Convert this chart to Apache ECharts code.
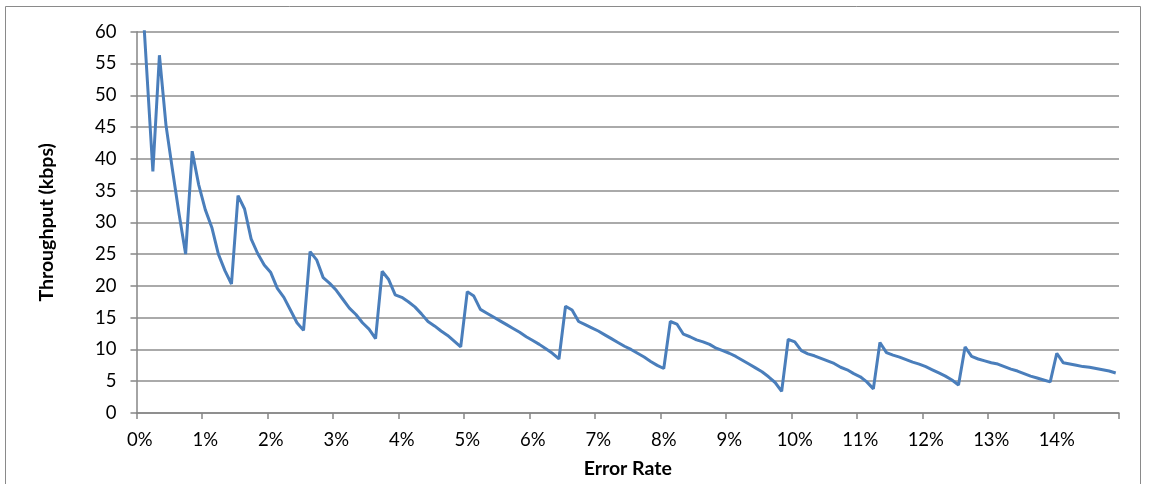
<!DOCTYPE html>
<html>
<head>
<meta charset="utf-8">
<script src="https://cdn.jsdelivr.net/npm/echarts@6/dist/echarts.min.js"></script>
<style>
html,body{margin:0;padding:0;background:#fff;}
#chart{width:1151px;height:484px;}
</style>
</head>
<body>
<div id="chart"></div>
<script>
// Error-rate categories (0.0% .. 14.9% in 0.1% steps)
const categories = [
"0%","0.1%","0.2%","0.3%","0.4%","0.5%","0.6%","0.7%","0.8%","0.9%",
"1%","1.1%","1.2%","1.3%","1.4%","1.5%","1.6%","1.7%","1.8%","1.9%",
"2%","2.1%","2.2%","2.3%","2.4%","2.5%","2.6%","2.7%","2.8%","2.9%",
"3%","3.1%","3.2%","3.3%","3.4%","3.5%","3.6%","3.7%","3.8%","3.9%",
"4%","4.1%","4.2%","4.3%","4.4%","4.5%","4.6%","4.7%","4.8%","4.9%",
"5%","5.1%","5.2%","5.3%","5.4%","5.5%","5.6%","5.7%","5.8%","5.9%",
"6%","6.1%","6.2%","6.3%","6.4%","6.5%","6.6%","6.7%","6.8%","6.9%",
"7%","7.1%","7.2%","7.3%","7.4%","7.5%","7.6%","7.7%","7.8%","7.9%",
"8%","8.1%","8.2%","8.3%","8.4%","8.5%","8.6%","8.7%","8.8%","8.9%",
"9%","9.1%","9.2%","9.3%","9.4%","9.5%","9.6%","9.7%","9.8%","9.9%",
"10%","10.1%","10.2%","10.3%","10.4%","10.5%","10.6%","10.7%","10.8%","10.9%",
"11%","11.1%","11.2%","11.3%","11.4%","11.5%","11.6%","11.7%","11.8%","11.9%",
"12%","12.1%","12.2%","12.3%","12.4%","12.5%","12.6%","12.7%","12.8%","12.9%",
"13%","13.1%","13.2%","13.3%","13.4%","13.5%","13.6%","13.7%","13.8%","13.9%",
"14%","14.1%","14.2%","14.3%","14.4%","14.5%","14.6%","14.7%","14.8%","14.9%"
];

// Throughput (kbps)
const throughput = [
72, 55, 38, 56.3, 45.3, 38.2, 31.3, 25.0, 41.2, 35.9,
32.0, 29.2, 25.0, 22.4, 20.3, 34.2, 32.1, 27.4, 25.1, 23.3,
22.1, 19.6, 18.2, 16.2, 14.2, 13.0, 25.4, 24.1, 21.3, 20.4,
19.3, 17.9, 16.5, 15.5, 14.2, 13.2, 11.7, 22.3, 21.0, 18.6,
18.2, 17.5, 16.7, 15.6, 14.4, 13.7, 12.9, 12.2, 11.3, 10.4,
19.1, 18.4, 16.3, 15.7, 15.1, 14.5, 13.9, 13.3, 12.7, 12.0,
11.4, 10.8, 10.1, 9.4, 8.5, 16.8, 16.2, 14.4, 13.9, 13.4,
12.9, 12.3, 11.7, 11.1, 10.5, 10.0, 9.4, 8.8, 8.1, 7.5,
7.0, 14.4, 14.0, 12.4, 12.0, 11.5, 11.2, 10.8, 10.2, 9.8,
9.4, 8.9, 8.3, 7.7, 7.1, 6.5, 5.7, 4.8, 3.4, 11.6,
11.2, 9.8, 9.3, 9.0, 8.6, 8.2, 7.8, 7.2, 6.8, 6.2,
5.7, 4.9, 3.8, 11.1, 9.5, 9.1, 8.8, 8.4, 8.0, 7.7,
7.3, 6.8, 6.3, 5.8, 5.2, 4.4, 10.4, 8.9, 8.5, 8.2,
7.9, 7.7, 7.3, 6.9, 6.6, 6.2, 5.8, 5.5, 5.2, 4.9,
9.4, 7.9, 7.7, 7.5, 7.3, 7.2, 7.0, 6.8, 6.6, 6.3
];

const yMin = 0, yMax = 60, yStep = 5;
const xTitle = "Error Rate";
const yTitle = "Throughput (kbps)";

const FONT = "Lato, 'Open Sans', sans-serif";
const chart = echarts.init(document.getElementById('chart'), null, {renderer: 'canvas'});
chart.setOption({
  animation: false,
  backgroundColor: '#ffffff',
  graphic: [{
    type: 'rect',
    shape: {x: 5.5, y: 6.5, width: 1135, height: 490},
    style: {fill: 'none', stroke: '#8a8a8a', lineWidth: 1},
    silent: true
  }],
  grid: {left: 136.5, right: 32, top: 31.7, bottom: 70.7, containLabel: false},
  xAxis: {
    type: 'category',
    data: categories,
    boundaryGap: true,
    name: xTitle,
    nameLocation: 'middle',
    nameGap: 46,
    nameTextStyle: {fontFamily: FONT, fontWeight: 'bold', fontSize: 19.5, color: '#000'},
    axisLine: {show: true, lineStyle: {color: '#868686', width: 1.5}},
    axisTick: {show: true, interval: 9, length: 6, lineStyle: {color: '#868686', width: 1.5}},
    axisLabel: {interval: 9, margin: 18, fontFamily: FONT, fontSize: 18.5, color: '#000'},
    splitLine: {show: false}
  },
  yAxis: {
    type: 'value',
    min: yMin, max: yMax, interval: yStep,
    name: yTitle,
    nameLocation: 'middle',
    nameRotate: 90,
    nameGap: 80,
    nameTextStyle: {fontFamily: FONT, fontWeight: 'bold', fontSize: 19.5, color: '#000'},
    axisLine: {show: true, lineStyle: {color: '#868686', width: 1.5}},
    axisTick: {show: true, length: 6, lineStyle: {color: '#868686', width: 1.5}},
    axisLabel: {margin: 20, fontFamily: FONT, fontSize: 18.5, color: '#000'},
    splitLine: {show: true, lineStyle: {color: '#8e8e8e', width: 1.5}}
  },
  series: [{
    type: 'line',
    data: throughput,
    showSymbol: false,
    symbol: 'none',
    clip: true,
    lineStyle: {color: '#4a7ebb', width: 3},
    itemStyle: {color: '#4a7ebb'}
  }]
});
</script>
</body>
</html>
